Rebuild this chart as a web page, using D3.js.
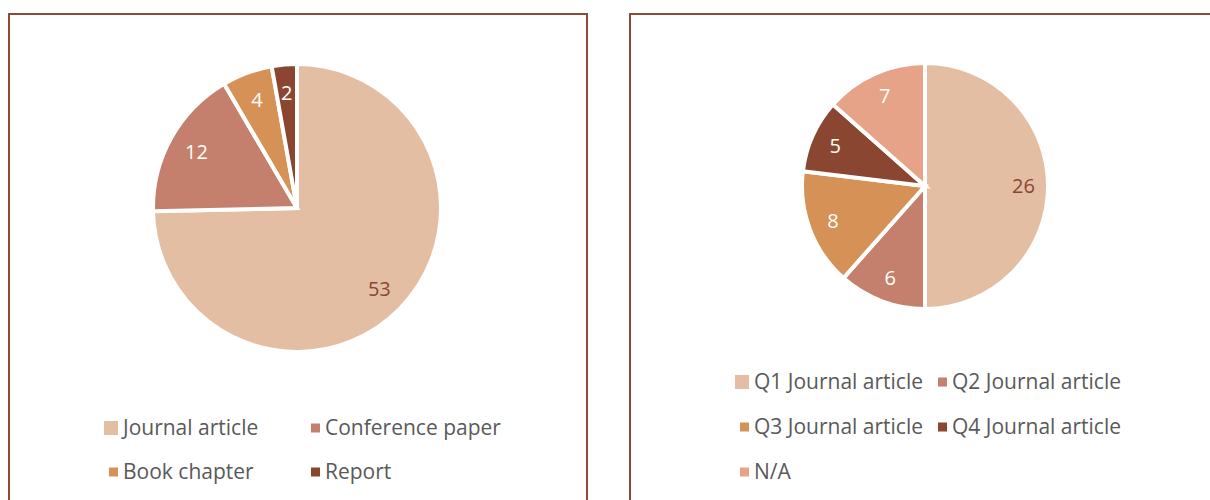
<!DOCTYPE html>
<html>
<head>
<meta charset="utf-8">
<script src="https://cdn.jsdelivr.net/npm/d3@7"></script>
<style>
  body { margin: 0; background: #fff; }
  svg { display: block; font-family: "Open Sans", sans-serif; }
</style>
</head>
<body>
<div id="visArea"></div>
<script>
// chart data
var typeLabels = ["Journal article", "Conference paper", "Book chapter", "Report"]
var typeValues = [53, 12, 4, 2]

var quartileLabels = ["Q1 Journal article", "Q2 Journal article", "Q3 Journal article", "Q4 Journal article", "N/A"]
var quartileValues = [26, 6, 8, 5, 7]

var typeColors = ["#E3BEA3", "#C4806C", "#D69157", "#8B4632"]
var quartileColors = ["#E3BEA3", "#C4806C", "#D69157", "#8B4632", "#E6A388"]

// display constants
var viewWidth = 1210
var viewHeight = 500
var borderColor = "#8C4B37"
var textColor = "#595959"
var fontSize = 21

var svg = d3.select("#visArea")
  .append("svg")
  .attr("width", viewWidth)
  .attr("height", viewHeight)

// panel frames
svg.append("rect")
  .attr("x", 9).attr("y", 14)
  .attr("width", 578).attr("height", 600)
  .attr("fill", "none")
  .attr("stroke", borderColor)
  .attr("stroke-width", 2)

svg.append("rect")
  .attr("x", 630).attr("y", 14)
  .attr("width", 700).attr("height", 600)
  .attr("fill", "none")
  .attr("stroke", borderColor)
  .attr("stroke-width", 2)

function drawPie(values, colors, cx, cy, radius) {
  var pie = d3.pie().sort(null)
  var arcs = pie(values)

  var arc = d3.arc()
    .innerRadius(0)
    .outerRadius(radius)

  var labelArc = d3.arc()
    .innerRadius(radius * 0.8)
    .outerRadius(radius * 0.8)

  var g = svg.append("g")
    .attr("transform", "translate(" + cx + "," + cy + ")")

  g.selectAll("path")
    .data(arcs)
    .enter()
    .append("path")
    .attr("d", arc)
    .attr("fill", (d, i) => colors[i])
    .attr("stroke", "#fff")
    .attr("stroke-width", 4)
    .attr("stroke-linejoin", "miter")

  g.selectAll("text")
    .data(arcs)
    .enter()
    .append("text")
    .attr("transform", (d) => "translate(" + labelArc.centroid(d) + ")")
    .attr("text-anchor", "middle")
    .attr("dy", "0.36em")
    .attr("font-size", 20)
    .attr("fill", (d, i) => i === 0 ? "#8B4632" : "#fff")
    .text((d) => d.data)
}

function drawLegend(labels, colors, colX, rowY) {
  var items = labels.map((label, i) => ({
    label: label,
    color: colors[i],
    x: colX[i % 2],
    y: rowY[Math.floor(i / 2)],
    size: i === 0 ? 14 : 9
  }))

  var g = svg.append("g")
  var item = g.selectAll("g")
    .data(items)
    .enter()
    .append("g")

  item.append("rect")
    .attr("x", (d) => d.x - 5 - d.size)
    .attr("y", (d) => d.y - d.size / 2)
    .attr("width", (d) => d.size)
    .attr("height", (d) => d.size)
    .attr("fill", (d) => d.color)

  item.append("text")
    .attr("x", (d) => d.x)
    .attr("y", (d) => d.y)
    .attr("dy", "0.35em")
    .attr("font-size", fontSize)
    .attr("fill", textColor)
    .text((d) => d.label)
}

drawPie(typeValues, typeColors, 297, 208, 144)
drawLegend(typeLabels, typeColors, [123, 325], [428, 472])

drawPie(quartileValues, quartileColors, 925, 186, 123)
drawLegend(quartileLabels, quartileColors, [754, 952], [382, 427, 472])
</script>
</body>
</html>
